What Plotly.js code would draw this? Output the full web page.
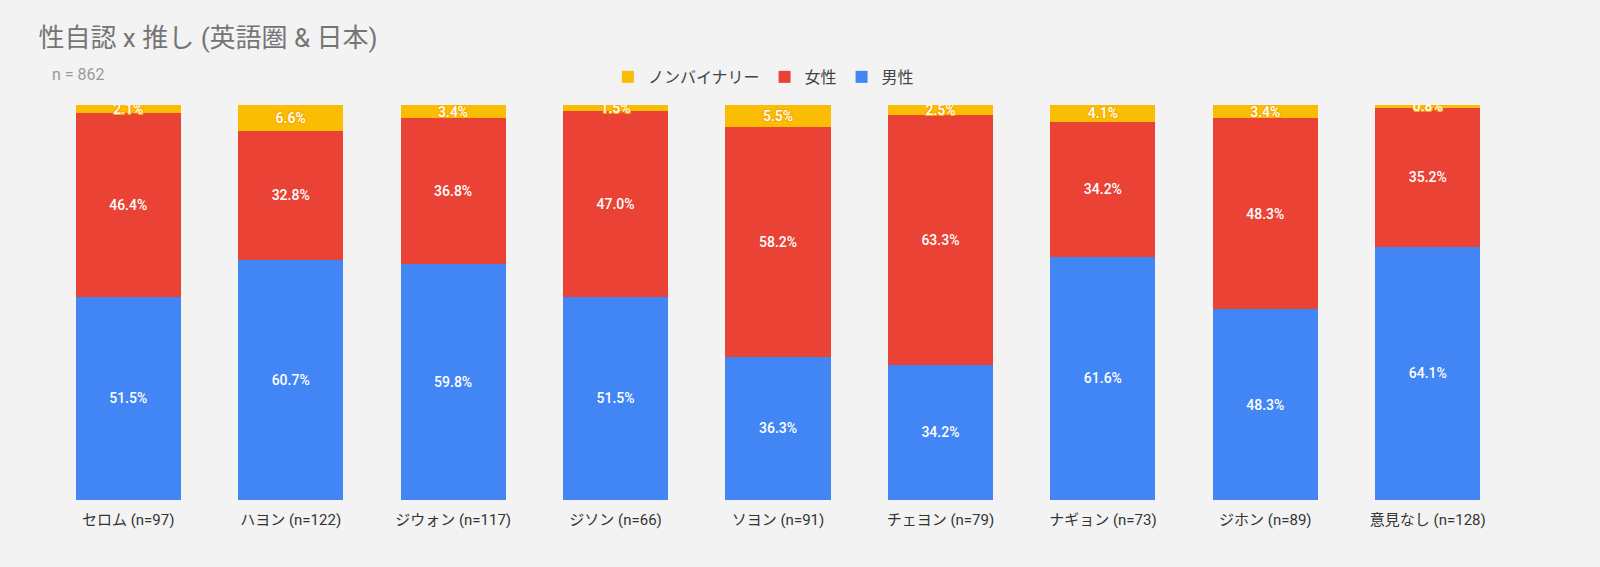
<!DOCTYPE html>
<html>
<head>
<meta charset="utf-8">
<script src="https://cdn.plot.ly/plotly-3.0.1.min.js"></script>
<style>
  body { margin: 0; background: #f3f3f3; }
  #chart { width: 1600px; height: 567px; }
</style>
</head>
<body>
<div id="chart"></div>
<script>
// 推しごとの人数と性自認の割合 (%)
var categories = ["セロム (n=97)", "ハヨン (n=122)", "ジウォン (n=117)", "ジソン (n=66)",
  "ソヨン (n=91)", "チェヨン (n=79)", "ナギョン (n=73)", "ジホン (n=89)", "意見なし (n=128)"];
var male = [51.5, 60.7, 59.8, 51.5, 36.3, 34.2, 61.6, 48.3, 64.1];
var female = [46.4, 32.8, 36.8, 47.0, 58.2, 63.3, 34.2, 48.3, 35.2];
var nonbinary = [2.1, 6.6, 3.4, 1.5, 5.5, 2.5, 4.1, 3.4, 0.8];

function pct(arr) {
  return arr.map(function (v) { return v.toFixed(1) + "%"; });
}

function barTrace(name, values, color, shadow) {
  return {
    type: "bar",
    name: name,
    x: categories,
    y: values,
    text: pct(values),
    textposition: "inside",
    insidetextanchor: "middle",
    constraintext: "none",
    textfont: { family: "Roboto", size: 14, color: "#ffffff", weight: 500, shadow: shadow || "none" },
    marker: { color: color },
    hoverinfo: "skip"
  };
}

// 黄色の細い帯はラベルがはみ出すので黄色の縁取りを付ける
var yellowEdge = "-1px -1px 0 #f9ab00, 1px -1px 0 #f9ab00, -1px 1px 0 #f9ab00, 1px 1px 0 #f9ab00";

var data = [
  barTrace("男性", male, "#4285f4"),
  barTrace("女性", female, "#ea4335"),
  barTrace("ノンバイナリー", nonbinary, "#fbbc04", yellowEdge)
];

var layout = {
  width: 1600,
  height: 567,
  paper_bgcolor: "#f3f3f3",
  plot_bgcolor: "#f3f3f3",
  barmode: "stack",
  bargap: 0.353,
  margin: { l: 47, r: 91, t: 105, b: 67 },
  font: { family: "Roboto, 'Noto Sans CJK JP', sans-serif", color: "#444" },
  title: {
    text: "性自認 x 推し (英語圏 & 日本)",
    font: { family: "Roboto, 'Noto Sans CJK JP', sans-serif", size: 26, color: "#757575" },
    x: 0.024, xanchor: "left",
    y: 0.933, yanchor: "middle"
  },
  showlegend: true,
  legend: {
    orientation: "h",
    traceorder: "reversed",
    x: 0.49, xanchor: "center",
    y: 1.071, yanchor: "middle",
    font: { size: 16, color: "#444" },
    itemwidth: 30,
    bgcolor: "rgba(0,0,0,0)"
  },
  xaxis: {
    type: "category",
    showgrid: false,
    zeroline: false,
    showline: false,
    ticks: "outside",
    ticklen: 6,
    tickcolor: "rgba(0,0,0,0)",
    tickfont: { size: 15, color: "#333" }
  },
  yaxis: {
    range: [0, 100],
    showgrid: false,
    zeroline: false,
    showticklabels: false,
    fixedrange: true
  },
  annotations: [{
    text: "n = 862",
    xref: "paper", yref: "paper",
    x: 0.002, y: 1.076,
    xanchor: "left", yanchor: "middle",
    showarrow: false,
    font: { size: 16, color: "#999999" }
  }]
};

Plotly.newPlot("chart", data, layout, { displayModeBar: false, staticPlot: true });
</script>
</body>
</html>
